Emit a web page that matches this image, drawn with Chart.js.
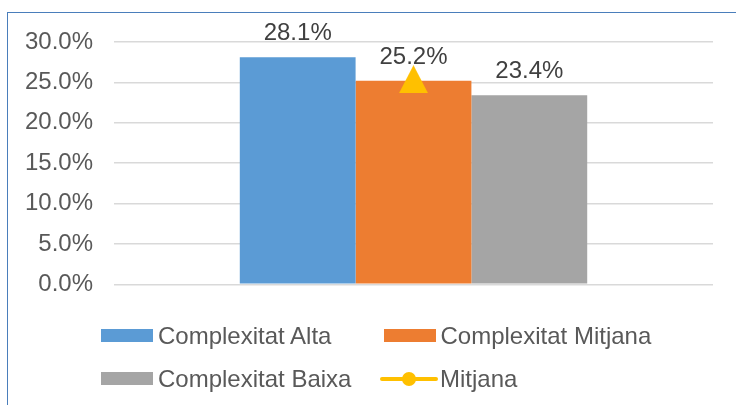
<!DOCTYPE html>
<html>
<head>
<meta charset="utf-8">
<script src="https://cdn.jsdelivr.net/npm/chart.js@4.4.0/dist/chart.umd.min.js"></script>
<style>
  html, body { margin: 0; padding: 0; background: #ffffff; }
  #wrap { position: relative; width: 736px; height: 405px; overflow: hidden; font-family: "Liberation Sans", Arial, sans-serif; }
  #frame { position: absolute; left: 7px; top: 12px; width: 760px; height: 420px; border-top: 1.5px solid #4a7ebb; border-left: 1.5px solid #4a7ebb; }
  canvas { position: absolute; left: 0; top: 0; }
  .li { position: absolute; display: flex; align-items: center; height: 30px; margin-top: -15px; font-size: 24px; color: #595959; white-space: nowrap; }
  .sw { width: 52px; height: 13px; margin-right: 5px; }
  .ln { position: relative; width: 58px; height: 14px; margin-right: 2px; }
  .ln .bar { position: absolute; left: 0; right: 0; top: 5px; height: 4px; border-radius: 2px; }
  .ln .dot { position: absolute; left: 22px; top: 0; width: 14px; height: 14px; border-radius: 50%; }
</style>
</head>
<body>
<div id="wrap">
  <div id="frame"></div>
  <canvas id="c" width="736" height="405"></canvas>
  <div id="legend"></div>
</div>
<script>
// ---- data ----
const categories = [''];
const seriesNames = ['Complexitat Alta', 'Complexitat Mitjana', 'Complexitat Baixa', 'Mitjana'];
const altaValues = [28.1];
const mitjanaValues = [25.2];
const baixaValues = [23.4];
const averageValues = [25.4];
const yTickValues = [0, 5, 10, 15, 20, 25, 30];

// ---- styles ----
const colors = ['#5b9bd5', '#ed7d31', '#a5a5a5', '#ffc000'];
const FONT = '"Liberation Sans", Arial, sans-serif';

// triangle marker for the average point
const tri = document.createElement('canvas');
tri.width = 29; tri.height = 28;
(function () {
  const t = tri.getContext('2d');
  t.fillStyle = colors[3];
  t.beginPath();
  t.moveTo(14.5, 0); t.lineTo(29, 28); t.lineTo(0, 28); t.closePath();
  t.fill();
})();

const barLabels = {
  id: 'barLabels',
  afterDatasetsDraw(chart) {
    const ctx = chart.ctx;
    ctx.save();
    ctx.font = '24px ' + FONT;
    ctx.fillStyle = '#404040';
    ctx.textAlign = 'center';
    ctx.textBaseline = 'alphabetic';
    chart.data.datasets.forEach((ds, i) => {
      if (ds.type !== 'bar') return;
      const meta = chart.getDatasetMeta(i);
      meta.data.forEach((el, j) => {
        ctx.fillText(ds.data[j].toFixed(1) + '%', el.x, el.y - 17);
      });
    });
    ctx.restore();
  }
};

const chart = new Chart(document.getElementById('c'), {
  data: {
    labels: categories,
    datasets: [
      { type: 'bar', label: seriesNames[0], data: altaValues, backgroundColor: colors[0], order: 1 },
      { type: 'bar', label: seriesNames[1], data: mitjanaValues, backgroundColor: colors[1], order: 1 },
      { type: 'bar', label: seriesNames[2], data: baixaValues, backgroundColor: colors[2], order: 1 },
      { type: 'line', label: seriesNames[3], data: averageValues, borderColor: colors[3], backgroundColor: colors[3],
        pointStyle: tri, pointRadius: 14, borderWidth: 4, order: 0 }
    ]
  },
  options: {
    responsive: false,
    animation: false,
    devicePixelRatio: 1,
    layout: { padding: { left: 26, right: 23, top: 42, bottom: 120.7 } },
    datasets: { bar: { categoryPercentage: 0.58, barPercentage: 1.0 } },
    plugins: { legend: { display: false }, tooltip: { enabled: false } },
    scales: {
      x: { display: false },
      y: {
        min: 0, max: 30,
        afterBuildTicks(scale) { scale.ticks = yTickValues.map(v => ({ value: v })); },
        afterFit(scale) { scale.width = 88; },
        border: { display: false },
        grid: { color: '#d9d9d9', lineWidth: 1.5, drawTicks: false },
        ticks: {
          padding: 21,
          color: '#595959',
          font: { family: FONT, size: 24 },
          callback: v => v.toFixed(1) + '%'
        }
      }
    }
  },
  plugins: [barLabels]
});

// ---- HTML legend (2 columns) ----
const legendPos = [[101, 335.5], [383.5, 335.5], [101, 378.5], [380, 378.5]];
const legendEl = document.getElementById('legend');
chart.data.datasets.forEach((ds, i) => {
  const item = document.createElement('div');
  item.className = 'li';
  item.style.left = legendPos[i][0] + 'px';
  item.style.top = legendPos[i][1] + 'px';
  let mark;
  if (ds.type === 'bar') {
    mark = document.createElement('div');
    mark.className = 'sw';
    mark.style.background = ds.backgroundColor;
  } else {
    mark = document.createElement('div');
    mark.className = 'ln';
    const b = document.createElement('div'); b.className = 'bar'; b.style.background = ds.borderColor;
    const d = document.createElement('div'); d.className = 'dot'; d.style.background = ds.borderColor;
    mark.appendChild(b); mark.appendChild(d);
  }
  const txt = document.createElement('span');
  txt.textContent = ds.label;
  item.appendChild(mark);
  item.appendChild(txt);
  legendEl.appendChild(item);
});
</script>
</body>
</html>
